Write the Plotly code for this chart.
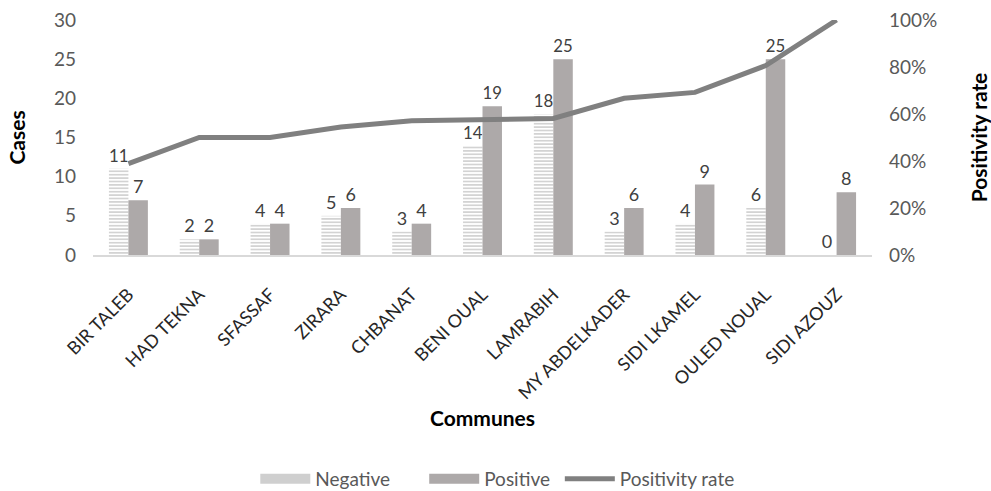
import plotly.graph_objects as go

communes = ["BIR TALEB", "HAD TEKNA", "SFASSAF", "ZIRARA", "CHBANAT", "BENI OUAL",
            "LAMRABIH", "MY ABDELKADER", "SIDI LKAMEL", "OULED NOUAL", "SIDI AZOUZ"]
negative = [11, 2, 4, 5, 3, 14, 18, 3, 4, 6, 0]
positive = [7, 2, 4, 6, 4, 19, 25, 6, 9, 25, 8]
positivity_rate = [0.389, 0.50, 0.50, 0.545, 0.571, 0.576, 0.581, 0.667, 0.692, 0.806, 1.0]
legend_names = ["Negative", "Positive", "Positivity rate"]

FONT = "Lato"
NEG_STRIPE = "#9E9E9E"
POS_COLOR = "#ADA9A9"
LINE_COLOR = "#808080"

fig = go.Figure()
fig.add_trace(go.Bar(
    x=communes, y=negative, name="Negative", showlegend=False,
    text=[str(v) for v in negative], textposition="outside",
    textfont=dict(size=18, color="#404040", family=FONT),
    marker=dict(color="white", line=dict(width=0),
                pattern=dict(shape="-", fgcolor=NEG_STRIPE, bgcolor="white", size=3.4, solidity=0.45)),
    cliponaxis=False,
))
fig.add_trace(go.Bar(
    x=communes, y=positive, name="Positive", showlegend=False,
    text=[str(v) for v in positive], textposition="outside",
    textfont=dict(size=18, color="#404040", family=FONT),
    marker=dict(color=POS_COLOR, line=dict(width=0)),
    cliponaxis=False,
))
fig.add_trace(go.Scatter(
    x=communes, y=positivity_rate, name="Positivity rate", yaxis="y2",
    mode="lines", line=dict(color=LINE_COLOR, width=5), showlegend=False,
    cliponaxis=False,
))
# legend entries (wide swatches as in the original)
for nm, col, w, pad in [(legend_names[0], "#CFCFCF", 12, "\u00a0" * 6),
                        (legend_names[1], POS_COLOR, 12, "\u00a0" * 1),
                        (legend_names[2], LINE_COLOR, 5, "")]:
    fig.add_trace(go.Scatter(x=[None], y=[None], name=nm + pad, mode="lines",
                             line=dict(color=col, width=w)))

fig.update_layout(
    width=991, height=491,
    margin=dict(l=93, r=119, t=20, b=236),
    paper_bgcolor="white", plot_bgcolor="white",
    font=dict(family=FONT, color="#595959"),
    barmode="group", bargap=0.45, bargroupgap=0,
    showlegend=True,
    legend=dict(orientation="h", x=0.519, xanchor="center",
                yref="container", y=0.0244, yanchor="middle",
                font=dict(size=19, color="#595959", family=FONT), itemwidth=50,
                traceorder="normal"),
    xaxis=dict(
        title=dict(text="<b>Communes</b>", font=dict(size=21, color="#000000", family=FONT), standoff=9),
        tickangle=-45, tickfont=dict(size=18, color="#262626", family=FONT), ticklabelstandoff=20,
        showline=True, linecolor="#D9D9D9", linewidth=2, ticks="", showgrid=False, automargin=False,
    ),
    yaxis=dict(
        title=dict(text="<b>Cases</b>", font=dict(size=21, color="#000000", family=FONT), standoff=22),
        range=[0, 30], dtick=5, tickfont=dict(size=19, color="#595959", family=FONT),
        ticklabelstandoff=16, automargin=False,
        showgrid=False, zeroline=False, showline=False, ticks="",
    ),
    yaxis2=dict(
        title=dict(text="<b>Positivity rate</b>", font=dict(size=21, color="#000000", family=FONT), standoff=36),
        overlaying="y", side="right", range=[0, 1], dtick=0.2, tickformat=".0%",
        tickfont=dict(size=19, color="#595959", family=FONT), ticklabelstandoff=16, automargin=False,
        showgrid=False, zeroline=False, showline=False, ticks="",
    ),
)

fig.write_html("out.html")
